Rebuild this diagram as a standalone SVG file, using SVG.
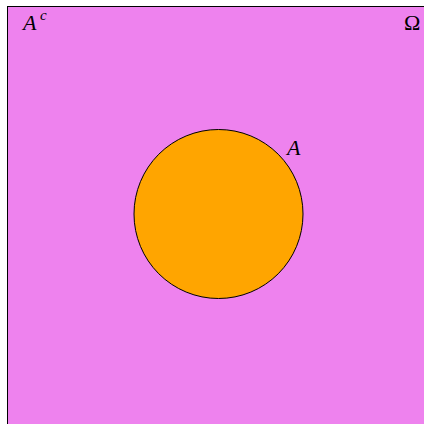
<svg xmlns="http://www.w3.org/2000/svg" width="424" height="424" viewBox="0 0 424 424">
<style>
.lbl{font-family:"Liberation Serif","DejaVu Serif",serif;font-size:22px;fill:#000}
.it{font-style:italic}
</style>
<rect width="424" height="424" fill="#fff"/>
<g id="omega">
<rect x="7.5" y="6.5" width="430" height="430" fill="#EE82EE" stroke="#000" stroke-width="1"/>
<text class="lbl" x="404" y="30">Ω</text>
</g>
<g id="Ac">
<text class="lbl it" x="23" y="30">A</text>
<text class="lbl it" x="40" y="20" style="font-size:15px">c</text>
</g>
<g id="A">
<circle cx="218.5" cy="214" r="84.5" fill="#FFA500" stroke="#000" stroke-width="1"/>
<text class="lbl it" x="287" y="155">A</text>
</g>
<g id="connectors"/>
</svg>
